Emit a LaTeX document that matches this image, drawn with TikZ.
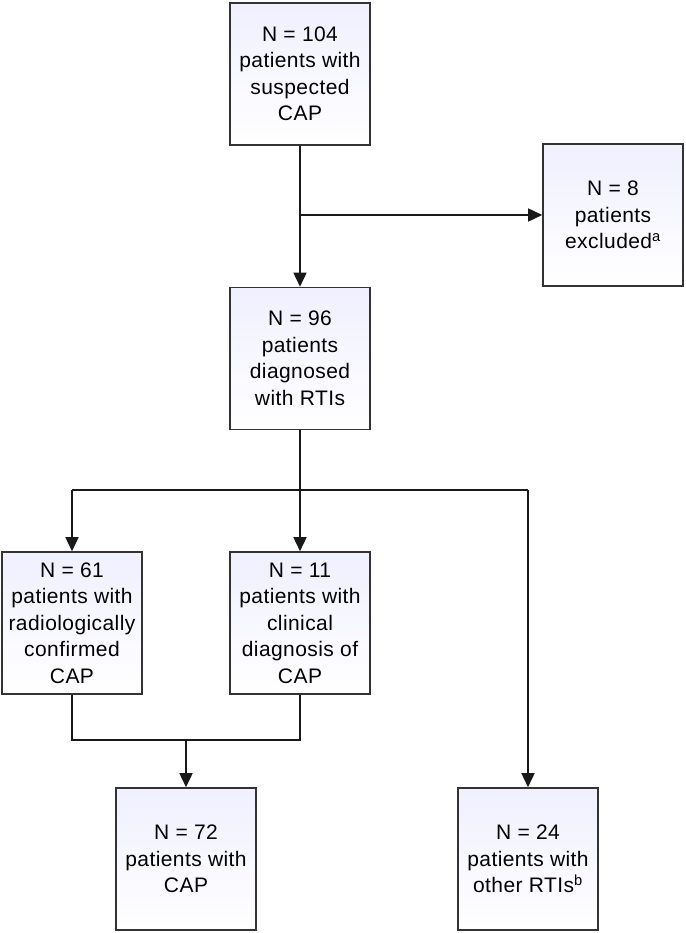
\documentclass[tikz,border=0pt]{standalone}
\usepackage{fontspec}
\setmainfont[LetterSpace=2]{Liberation Sans}
\usetikzlibrary{arrows.meta}
\begin{document}
\begin{tikzpicture}[x=1pt,y=-1pt,
  box/.style={draw=black!80, line width=1.6pt, minimum width=140pt, minimum height=142pt,
    inner sep=2pt, align=center, shading=axis, shading angle=45,
    top color=blue!6!white, bottom color=white,
    font=\fontsize{21}{26.5}\selectfont},
  conn/.style={line width=1.6pt, black!90},
  arr/.style={conn, -{Triangle[width=13pt,length=14pt]}}]
\useasboundingbox (0,0) rectangle (685,933);
\node[box] (top) at (300,74) {N = 104\\patients with\\suspected\\CAP};
\node[box] (excl) at (613,215) {N = 8\\patients\\excluded\textsuperscript{a}};
\node[box] (mid) at (300,358.5) {N = 96\\patients\\diagnosed\\with RTIs};
\node[box] (left) at (72,623) {N = 61\\patients with\\radiologically\\confirmed\\CAP};
\node[box] (mid2) at (300,623) {N = 11\\patients with\\clinical\\diagnosis of\\CAP};
\node[box] (bl) at (186,859) {N = 72\\patients with\\CAP};
\node[box] (br) at (528,859) {N = 24\\patients with\\other RTIs\textsuperscript{b}};
\coordinate (j1) at (300,215);
\coordinate (j2) at (300,490);
\coordinate (j2l) at (72,490);
\coordinate (j2r) at (528,490);
\coordinate (j3l) at (72,740);
\coordinate (j3r) at (300,740);
\coordinate (j3) at (186,740);
\draw[arr] (top.south) -- (mid.north);
\draw[arr] (j1) -- (excl.west);
\draw[conn] (mid.south) -- (j2);
\draw[conn] (j2l) -- (j2r);
\draw[arr] (j2l) -- (left.north);
\draw[arr] (j2) -- (mid2.north);
\draw[arr] (j2r) -- (br.north);
\draw[conn] (left.south) -- (j3l) -- (j3r) -- (mid2.south);
\draw[arr] (j3) -- (bl.north);
\end{tikzpicture}
\end{document}
